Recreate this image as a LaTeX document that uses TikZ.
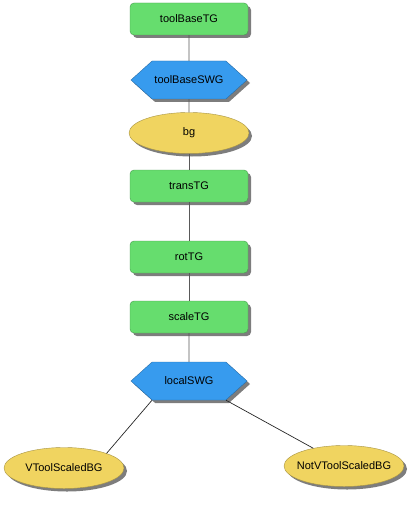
\documentclass[tikz,border=0pt]{standalone}
\usepackage{fontspec}
\setmainfont{Liberation Sans}
\definecolor{tgreen}{RGB}{102,221,110}
\definecolor{swgblue}{RGB}{55,155,238}
\definecolor{bgyellow}{RGB}{240,212,96}
\usetikzlibrary{shapes.geometric, shapes.symbols, shadows}

\begin{document}
\begin{tikzpicture}[x=1pt, y=-1pt, font=\fontsize{11}{13}\selectfont,
    shade/.style={drop shadow={shadow xshift=3pt, shadow yshift=-3pt, opacity=0.6, fill=black!85}},
    tgbox/.style={rectangle, rounded corners=4pt, fill=tgreen, draw=tgreen!70!black, line width=0.4pt,
      minimum width=118pt, minimum height=32pt, shade},
    swghex/.style={signal, signal to=east and west, signal pointer angle=84, fill=swgblue,
      draw=swgblue!70!black, line width=0.4pt, minimum width=116pt, minimum height=38pt, inner xsep=1pt, shade},
    bgoval/.style={ellipse, fill=bgyellow, draw=bgyellow!70!black, line width=0.4pt,
      minimum width=120pt, minimum height=41pt, inner ysep=0pt, inner xsep=-10pt, shade},
    link/.style={draw=black!65, line width=0.7pt}]
  \useasboundingbox (0,0) rectangle (417,505);

  \node[tgbox]  (toolBaseTG)  at (189,19)  {toolBaseTG};
  \node[swghex] (toolBaseSWG) at (189,80)  {toolBaseSWG};
  \node[bgoval] (bg)          at (189,133) {bg};
  \node[tgbox]  (transTG)     at (189,186) {transTG};
  \node[tgbox]  (rotTG)       at (189,257) {rotTG};
  \node[tgbox]  (scaleTG)     at (189,317) {scaleTG};
  \node[swghex] (localSWG)    at (189,381) {localSWG};
  \node[bgoval] (vscaled)     at (64,468)  {VToolScaledBG};
  \node[bgoval] (notvscaled)  at (344,466) {NotVToolScaledBG};

  \draw[link] (toolBaseTG) -- (toolBaseSWG);
  \draw[link] (toolBaseSWG) -- (bg);
  \draw[link] (bg) -- (transTG);
  \draw[link] (transTG) -- (rotTG);
  \draw[link] (rotTG) -- (scaleTG);
  \draw[link] (scaleTG) -- (localSWG);
  \draw[link, draw=black!85] (localSWG.south west) -- (vscaled.north east);
  \draw[link, draw=black!85] (localSWG.south east) -- (notvscaled.150);
\end{tikzpicture}
\end{document}
